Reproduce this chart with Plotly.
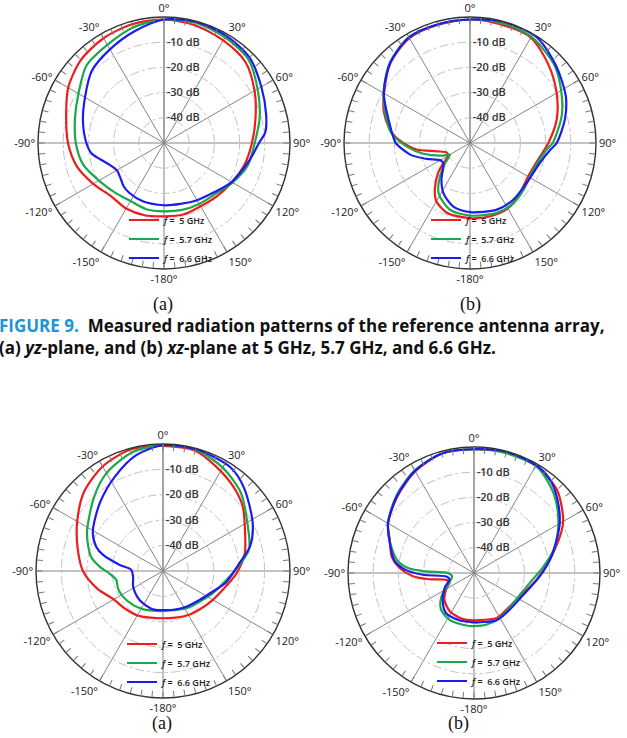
import plotly.graph_objects as go

# ---------------- data (dB vs angle in degrees) ----------------
SERIES_HTML = ["<i>f</i> =  5 GHz", "<i>f</i> =  5.7 GHz", "<i>f</i> =  6.6 GHz"]
COLORS = ["#ee1c1c", "#1aa84a", "#1c1cf0"]

ANG_TICKVALS = [0, 30, 60, 90, 120, 150, 180, 210, 240, 270, 300, 330]
ANG_TICKTEXT = ["0°", "30°", "60°", "90°", "120°", "150°", "-180°",
                "-150°", "-120°", "-90°", "-60°", "-30°"]
RAD_TICKVALS = [-40, -30, -20, -10]
RAD_TICKTEXT = ["-40 dB", "-30 dB", "-20 dB", "-10 dB"]
PANEL_LABELS = ["(a)", "(b)", "(a)", "(b)"]

# Top (a): yz-plane, reference antenna array
A1_T_RED = [-180, -165, -150, -135, -120, -105, -90, -75, -60, -45, -30, -15, 0,
            15, 30, 45, 60, 75, 90, 105, 120, 135, 150, 165, 180]
A1_R_RED = [-20.9, -20.3, -20.0, -20.2, -17.6, -14.2, -11.9, -9.8, -6.1, -3.4, -2.0, -1.2, -1.0,
            -1.7, -3.0, -4.4, -8.5, -12.4, -15.1, -16.9, -18.9, -20.2, -21.0, -20.6, -20.9]
A1_T_GRN = [-180, -165, -150, -135, -120, -105, -90, -75, -60, -45, -30, -15, 0,
            15, 30, 45, 60, 75, 90, 105, 120, 135, 150, 165, 180]
A1_R_GRN = [-22.9, -22.8, -23.4, -22.3, -20.2, -16.8, -15.0, -13.4, -10.8, -6.5, -5.0, -2.5, -1.0,
            -0.7, -1.6, -2.8, -7.1, -10.7, -14.0, -15.6, -18.6, -21.3, -22.1, -22.5, -22.9]
A1_T_BLU = [-180, -160, -145, -137, -129, -120, -112, -104, -98, -90, -75, -60, -45, -30, -15, 0,
            15, 30, 45, 60, 75, 84, 90, 101, 120, 135, 150, 165, 180]
A1_R_BLU = [-25.3, -25.4, -25.9, -26.5, -27.8, -28.4, -26.8, -23.7, -20.9, -19.2, -16.7, -13.8, -9.5,
            -7.1, -4.2, -1.0, -0.3, -0.8, -2.0, -5.4, -8.0, -9.6, -12.3, -15.3, -19.0, -22.2,
            -23.8, -25.0, -25.3]

# Top (b): xz-plane, reference antenna array
B1_T_RED = [-180, -162, -150, -143, -133, -127, -120, -112, -104, -97, -90, -84, -80, -70, -60,
            -45, -30, -15, 0, 15, 30, 45, 60, 75, 90, 105, 120, 135, 150, 165, 180]
B1_R_RED = [-20.2, -20.8, -23.3, -26.8, -32.7, -36.8, -40.0, -40.0, -36.4, -28.7, -23.5, -19.5,
            -17.5, -13.6, -10.6, -5.3, -1.9, -1.4, -1.0, -1.4, -1.7, -6.0, -10.3, -14.4, -18.9,
            -22.4, -23.4, -22.0, -20.0, -19.8, -20.2]
B1_T_GRN = [-180, -163, -148, -138, -129, -120, -115, -103, -93, -83, -75, -60, -45, -30, -15, 0,
            15, 30, 48, 63, 74, 90, 95, 113, 131, 144, 159, 180]
B1_R_GRN = [-21.2, -22.4, -26.5, -32.2, -37.3, -40.8, -38.2, -31.0, -24.8, -18.6, -15.9, -10.4,
            -5.0, -1.5, -1.2, -1.0, -0.7, -1.3, -4.6, -9.1, -12.2, -17.2, -19.5, -22.7, -21.8,
            -20.6, -20.3, -21.2]
B1_T_BLU = [-180, -165, -152, -142, -128, -121, -110, -101, -90, -87, -75, -60, -45, -30, -15, 0,
            15, 32, 48, 64, 76, 90, 95, 106, 125, 143, 158, 180]
B1_R_BLU = [-22.6, -24.0, -27.5, -31.6, -36.6, -36.5, -31.6, -25.8, -20.5, -19.8, -16.7, -10.5,
            -5.2, -1.6, -1.2, -1.0, -0.1, -0.3, -4.1, -7.7, -11.2, -15.6, -18.1, -21.2, -22.5,
            -21.7, -21.5, -22.6]

# Bottom (a): yz-plane, proposed antenna array
A2_T_RED = [-180, -165, -150, -135, -120, -105, -90, -75, -60, -45, -30, -15, 0,
            15, 27, 40, 51, 63, 78, 92, 111, 120, 135, 150, 165, 180]
A2_R_RED = [-31.4, -31.0, -29.8, -29.0, -27.6, -23.2, -18.5, -15.2, -11.0, -6.0, -2.5, -0.5, -0.7,
            -1.0, -3.9, -6.8, -9.6, -13.8, -17.1, -21.1, -26.0, -27.3, -29.0, -30.0, -31.0, -31.4]
A2_T_GRN = [-180, -166, -152, -139, -123, -111, -101, -93, -86, -79, -64, -43, -30, -14, 0,
            15, 30, 45, 60, 76, 90, 98, 114, 130, 148, 165, 180]
A2_R_GRN = [-34.2, -33.9, -33.0, -32.2, -31.3, -31.0, -31.3, -29.0, -25.0, -21.2, -16.7, -10.2,
            -5.5, -1.6, -0.5, -0.5, -3.0, -6.6, -11.7, -15.1, -21.8, -24.8, -28.5, -31.2, -32.7,
            -34.0, -34.2]
A2_T_BLU = [-180, -165, -141, -118, -101, -88, -82, -75, -70, -61, -43, -27, -13, 0,
            15, 33, 44, 62, 74, 84, 100, 112, 128, 147, 165, 180]
A2_R_BLU = [-34.6, -34.4, -35.3, -36.7, -38.0, -37.5, -32.8, -25.6, -22.0, -18.4, -13.5, -8.3,
            -3.2, -0.5, -0.3, -1.3, -4.2, -10.0, -14.3, -19.7, -24.7, -28.7, -31.6, -33.2, -34.2,
            -34.6]

# Bottom (b): xz-plane, proposed antenna array
B2_T_RED = [-180, -167, -148, -132, -119, -111, -104, -98, -93, -86, -79, -68, -60, -45, -30, -15,
            0, 16, 30, 45, 59, 65, 80, 96, 122, 144, 154, 177, 180]
B2_R_RED = [-31.2, -31.2, -32.0, -34.2, -37.5, -39.6, -38.7, -32.2, -25.7, -20.3, -16.8, -13.9,
            -10.6, -7.0, -3.4, -0.9, -0.9, -0.2, -0.8, -3.4, -8.7, -11.8, -19.5, -25.0, -30.1,
            -30.4, -30.0, -31.2, -31.2]
B2_T_GRN = [-180, -175, -153, -138, -126, -114, -99, -90, -88, -86, -81, -72, -60, -45, -30, -15,
            0, 15, 31, 45, 58, 72, 85, 100, 128, 150, 167, 180]
B2_R_GRN = [-28.9, -28.9, -29.0, -30.5, -34.0, -38.7, -41.2, -39.7, -31.0, -24.3, -19.4, -15.4,
            -10.6, -6.5, -3.0, -0.9, -0.9, -0.8, -1.1, -5.3, -10.5, -16.2, -22.4, -27.5, -30.4,
            -29.4, -28.9, -28.9]
B2_T_BLU = [-180, -163, -145, -132, -117, -104, -97, -92, -87, -81, -70, -60, -45, -30, -15,
            0, 15, 32, 41, 52, 61, 78, 93, 114, 136, 155, 177, 180]
B2_R_BLU = [-30.4, -30.4, -30.6, -33.3, -36.9, -40.0, -38.9, -29.7, -22.4, -18.0, -14.4, -10.6,
            -6.8, -3.2, -0.9, -0.9, -0.2, -0.8, -2.8, -7.3, -11.2, -18.6, -23.9, -28.6, -29.7,
            -29.2, -30.4, -30.4]

PANELS = [
    [(A1_T_RED, A1_R_RED), (A1_T_GRN, A1_R_GRN), (A1_T_BLU, A1_R_BLU)],
    [(B1_T_RED, B1_R_RED), (B1_T_GRN, B1_R_GRN), (B1_T_BLU, B1_R_BLU)],
    [(A2_T_RED, A2_R_RED), (A2_T_GRN, A2_R_GRN), (A2_T_BLU, A2_R_BLU)],
    [(B2_T_RED, B2_R_RED), (B2_T_GRN, B2_R_GRN), (B2_T_BLU, B2_R_BLU)],
]

# ---------------- layout geometry (pixels) ----------------
W, H = 627, 738
CENTERS = [(164, 143, 126), (470, 143, 126), (163, 571, 127), (474, 573, 126)]
LEGEND_POS = [(124, 239), (426, 239), (122, 663), (432, 662)]
LABEL_POS = [(163, 304), (470, 304), (162, 723), (458, 723)]
CAPTION_Y = 336


def dom(cx, cy, r):
    return dict(x=[(cx - r) / W, (cx + r) / W], y=[1 - (cy + r) / H, 1 - (cy - r) / H])


fig = go.Figure()
layout = dict(width=W, height=H, margin=dict(l=0, r=0, t=0, b=0),
              paper_bgcolor="white", plot_bgcolor="white", showlegend=True)

for i, (cx, cy, r) in enumerate(CENTERS):
    main = "polar" if i == 0 else f"polar{i + 1}"
    tick = f"polar{i + 5}"
    leg = "legend" if i == 0 else f"legend{i + 1}"
    for (th, rr), name, col in zip(PANELS[i], SERIES_HTML, COLORS):
        fig.add_trace(go.Scatterpolar(
            theta=th, r=rr, mode="lines", name=name, subplot=main, legend=leg,
            line=dict(color=col, width=2.2, shape="spline", smoothing=0.8),
            hoverinfo="skip"))
    fig.add_trace(go.Scatterpolar(theta=[], r=[], subplot=tick, showlegend=False))
    d = dom(cx, cy, r)
    layout[main] = dict(
        domain=d, bgcolor="white",
        angularaxis=dict(rotation=90, direction="clockwise", tickmode="array",
                         tickvals=ANG_TICKVALS, ticktext=ANG_TICKTEXT, ticks="",
                         showline=True, linecolor="#333", linewidth=1.4,
                         gridcolor="#858585", gridwidth=1,
                         tickfont=dict(family="Open Sans", size=11, color="#222")),
        radialaxis=dict(range=[-50, 0], angle=90, side="clockwise", tickangle=90,
                        tickmode="array", tickvals=RAD_TICKVALS, ticktext=RAD_TICKTEXT,
                        showline=True, linecolor="#858585", ticks="",
                        gridcolor="#c2c2c2", griddash="dashdot", gridwidth=0.9,
                        tickfont=dict(family="Open Sans", size=11, color="#333",
                                      weight=600)))
    layout[tick] = dict(
        domain=d, bgcolor="rgba(0,0,0,0)",
        angularaxis=dict(rotation=90, direction="clockwise", tickmode="array",
                         tickvals=list(range(0, 360, 5)), ticks="inside", ticklen=6,
                         tickcolor="#777", tickwidth=1, showticklabels=False,
                         showgrid=False, showline=False),
        radialaxis=dict(visible=False, range=[-50, 0]))
    lx, ly = LEGEND_POS[i]
    layout[leg] = dict(x=lx / W, y=1 - ly / H, xanchor="left", yanchor="middle",
                       bgcolor="rgba(0,0,0,0)", borderwidth=0, tracegroupgap=0,
                       font=dict(family="Open Sans", size=9, color="#222", weight=600))

annotations = []
for (x, y), t in zip(LABEL_POS, PANEL_LABELS):
    annotations.append(dict(x=x / W, y=1 - y / H, xref="paper", yref="paper", text=t,
                            showarrow=False, xanchor="center", yanchor="middle",
                            font=dict(family="Liberation Serif", size=18, color="#111")))
annotations.append(dict(
    x=-0.004, y=1 - CAPTION_Y / H, xref="paper", yref="paper", xanchor="left", yanchor="middle",
    showarrow=False, align="left",
    text=("<span style='color:#1b95d3'>FIGURE 9.</span>  Measured radiation patterns of the "
          "reference antenna array,<br>(a) <i>yz</i>-plane, and (b) <i>xz</i>-plane at 5 GHz, "
          "5.7 GHz, and 6.6 GHz."),
    font=dict(family="Open Sans", size=17, color="#111", weight=700)))
layout["annotations"] = annotations

fig.update_layout(**layout)
fig.write_html("out.html", config={"displayModeBar": False},
               post_script="document.body.style.margin='0';")
